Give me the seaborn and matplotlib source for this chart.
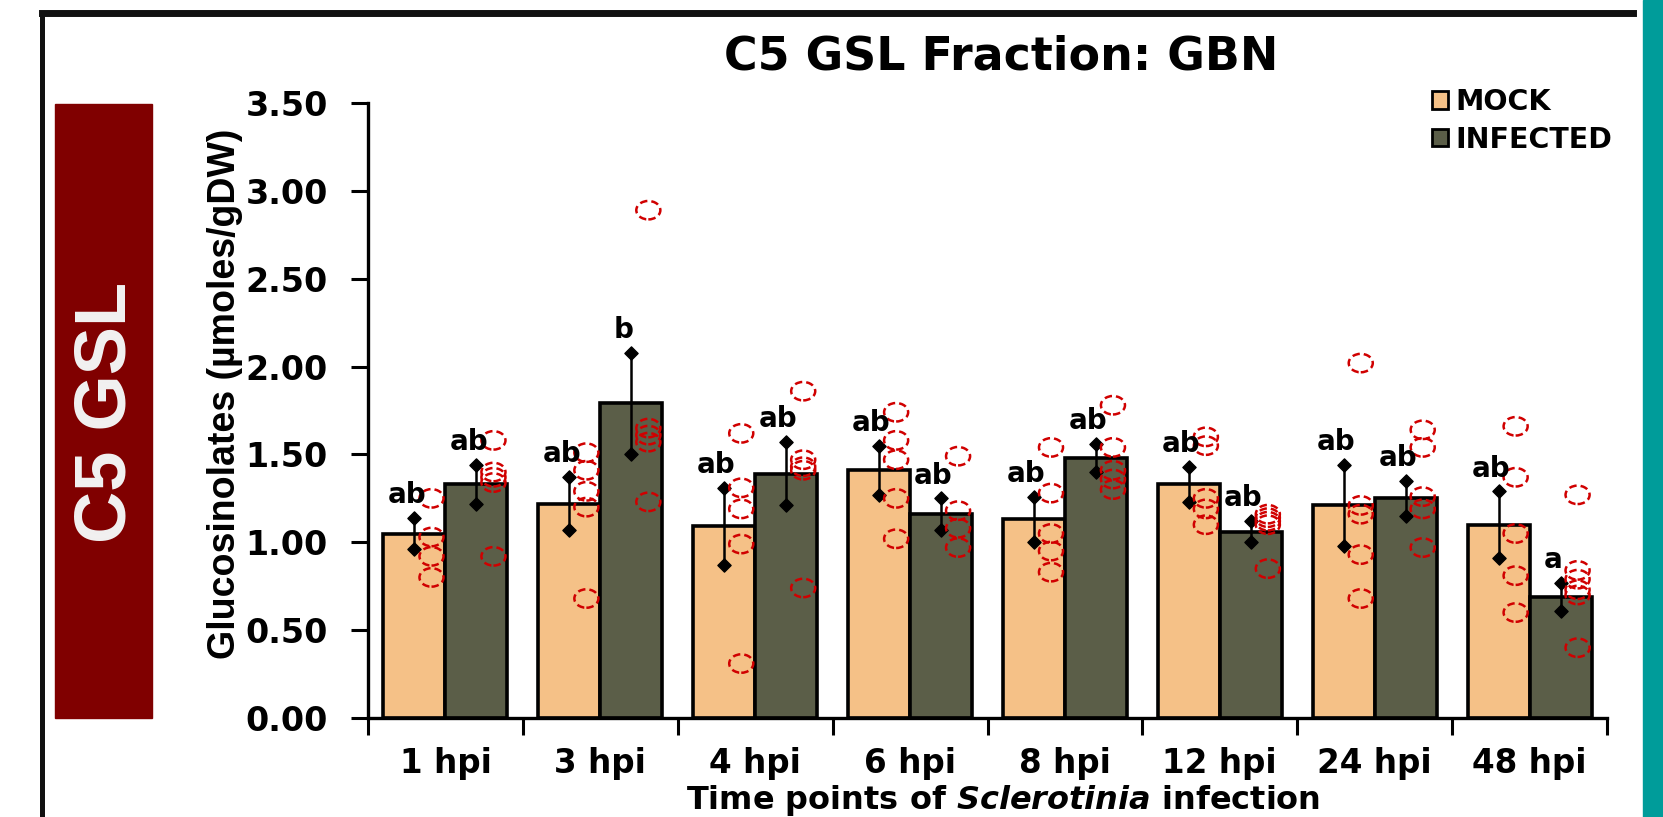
import numpy as np
import pandas as pd
import matplotlib
matplotlib.use("Agg")
import matplotlib.pyplot as plt
import seaborn as sns
from matplotlib.patches import Rectangle, Patch
from matplotlib.lines import Line2D
from matplotlib.path import Path
from matplotlib.ticker import FixedLocator, FormatStrFormatter

# ---- data ----
times = ["1 hpi", "3 hpi", "4 hpi", "6 hpi", "8 hpi", "12 hpi", "24 hpi", "48 hpi"]
groups = ["MOCK", "INFECTED"]

mock_mean = [1.05, 1.22, 1.09, 1.41, 1.13, 1.33, 1.21, 1.10]
inf_mean = [1.33, 1.79, 1.39, 1.16, 1.48, 1.06, 1.25, 0.69]
mock_se = [0.09, 0.15, 0.22, 0.14, 0.13, 0.10, 0.23, 0.19]
inf_se = [0.11, 0.29, 0.18, 0.09, 0.08, 0.06, 0.10, 0.08]

mock_letters = ["ab", "ab", "ab", "ab", "ab", "ab", "ab", "ab"]
inf_letters = ["ab", "b", "ab", "ab", "ab", "ab", "ab", "a"]

mock_points = [
    [1.25, 1.03, 0.92, 0.80],
    [1.51, 1.41, 1.29, 1.20, 0.68],
    [1.62, 1.31, 1.19, 0.99, 0.31],
    [1.74, 1.58, 1.47, 1.25, 1.02],
    [1.54, 1.28, 1.05, 0.95, 0.83],
    [1.60, 1.55, 1.25, 1.19, 1.10],
    [2.02, 1.21, 1.16, 0.93, 0.68],
    [1.66, 1.37, 1.05, 0.81, 0.60],
]
inf_points = [
    [1.58, 1.40, 1.37, 1.34, 0.92],
    [2.89, 1.65, 1.61, 1.57, 1.23],
    [1.86, 1.47, 1.43, 1.41, 0.74],
    [1.49, 1.18, 1.08, 0.97],
    [1.78, 1.54, 1.41, 1.36, 1.30],
    [1.16, 1.14, 1.12, 1.10, 0.85],
    [1.64, 1.54, 1.26, 1.19, 0.97],
    [1.27, 0.84, 0.79, 0.73, 0.70, 0.40],
]

mock_color = "#F5C187"
inf_color = "#5B5E48"
dot_color = "#D00000"

W, H = 1663, 817
plt.rcParams["font.family"] = ["DejaVu Sans"]
plt.rcParams["font.weight"] = "bold"
plt.rcParams["mathtext.fontset"] = "custom"
plt.rcParams["mathtext.it"] = "DejaVu Sans:italic:bold"

# slightly wide ellipse used as the dot marker
uc = Path.unit_circle()
ellipse = Path(uc.vertices * np.array([1.2, 0.92]), uc.codes)

fig = plt.figure(figsize=(W / 100, H / 100), dpi=100)
ax = fig.add_axes([368 / W, 1 - 718 / H, (1607 - 368) / W, (718 - 103) / H])

df = pd.DataFrame({
    "time": times * 2,
    "group": ["MOCK"] * len(times) + ["INFECTED"] * len(times),
    "value": mock_mean + inf_mean,
})

sns.barplot(data=df, x="time", y="value", hue="group", order=times,
            hue_order=groups, palette=[mock_color, inf_color], saturation=1,
            edgecolor="black", linewidth=2.6, errorbar=None, width=0.8,
            legend=False, ax=ax, zorder=2)

xc = np.arange(len(times))
for off, mean, se, pts, letters in [(-0.2, mock_mean, mock_se, mock_points, mock_letters),
                                     (0.2, inf_mean, inf_se, inf_points, inf_letters)]:
    mean = np.array(mean)
    se = np.array(se)
    ax.errorbar(xc + off, mean, yerr=se, fmt="none", ecolor="black",
                elinewidth=1.8, capsize=0, zorder=4)
    ax.scatter(xc + off, mean + se, marker="D", s=45, color="black", zorder=5)
    ax.scatter(xc + off, mean - se, marker="D", s=45, color="black", zorder=5)
    for i, p in enumerate(pts):
        ax.scatter(np.full(len(p), i + off + 0.11), p, s=300, marker=ellipse,
                   facecolors="none", edgecolors=dot_color, linewidths=1.8,
                   linestyles=(0, (3, 1.6)), zorder=6)
        ax.text(i + off - 0.05, mean[i] + se[i] + 0.05, letters[i], ha="center",
                va="bottom", fontsize=20, fontweight="bold", zorder=7)

ax.set_xlim(-0.5, len(times) - 0.5)
ax.set_ylim(0, 3.5)
ax.yaxis.set_major_locator(FixedLocator(np.arange(0, 3.51, 0.5)))
ax.yaxis.set_major_formatter(FormatStrFormatter("%.2f"))
ax.xaxis.set_major_locator(FixedLocator(np.arange(-0.5, len(times), 1.0)))
ax.xaxis.set_minor_locator(FixedLocator(xc))
ax.set_xticklabels([], minor=False)
ax.set_xticklabels(times, minor=True)
ax.tick_params(axis="x", which="major", length=12, width=2.2, direction="out")
ax.tick_params(axis="x", which="minor", length=0, pad=21, labelsize=23.5)
ax.tick_params(axis="y", length=12, width=2.2, pad=17, labelsize=24)
for lab in ax.get_yticklabels() + ax.get_xticklabels(minor=True):
    lab.set_fontweight("bold")
ax.set_xlabel("")
ax.set_ylabel("")
for s in ["top", "right"]:
    ax.spines[s].set_visible(False)
for s in ["left", "bottom"]:
    ax.spines[s].set_linewidth(2.4)
    ax.spines[s].set_color("black")

# legend
handles = [Patch(facecolor=mock_color, edgecolor="black", linewidth=2),
           Patch(facecolor=inf_color, edgecolor="black", linewidth=2)]
fig.legend(handles, groups, loc="upper right", bbox_to_anchor=(1612 / W, 1 - 88 / H),
           frameon=False, prop={"weight": "bold", "size": 20.5}, handlelength=0.55,
           handleheight=0.55, handletextpad=0.25, labelspacing=0.35, borderpad=0,
           borderaxespad=0)

# titles and labels
fig.text(1001 / W, 1 - 70 / H, "C5 GSL Fraction: GBN", ha="center", va="baseline",
         fontsize=33, fontweight="bold")
fig.text(225 / W, 1 - 394 / H, "Glucosinolates (µmoles/gDW)", rotation=90,
         ha="center", va="center", fontsize=27, fontweight="bold",
         family=["Liberation Sans", "DejaVu Sans"])
fig.text(1003 / W, 1 - 809 / H, r"Time points of $\mathit{Sclerotinia}$ infection",
         ha="center", va="baseline", fontsize=23, fontweight="bold")

# slide decorations
fig.add_artist(Rectangle((55 / W, 1 - 718 / H), 97 / W, 614 / H,
                         transform=fig.transFigure, color="#800000", zorder=0))
fig.text(106 / W, 1 - 412 / H, "C5 GSL", rotation=90, ha="center", va="center",
         color="#F2F2F2", fontsize=52, fontweight="bold",
         family=["Liberation Sans", "DejaVu Sans"])
fig.add_artist(Line2D([42 / W, 1633 / W], [1 - 13 / H, 1 - 13 / H],
                      transform=fig.transFigure, color="#111111", linewidth=5))
fig.add_artist(Line2D([42 / W, 42 / W], [0, 1 - 13 / H],
                      transform=fig.transFigure, color="#111111", linewidth=3.6))
fig.add_artist(Rectangle((1643 / W, 0), 20 / W, 1, transform=fig.transFigure,
                         color="#009C9A", zorder=0))

fig.savefig("out.png", dpi=100)
